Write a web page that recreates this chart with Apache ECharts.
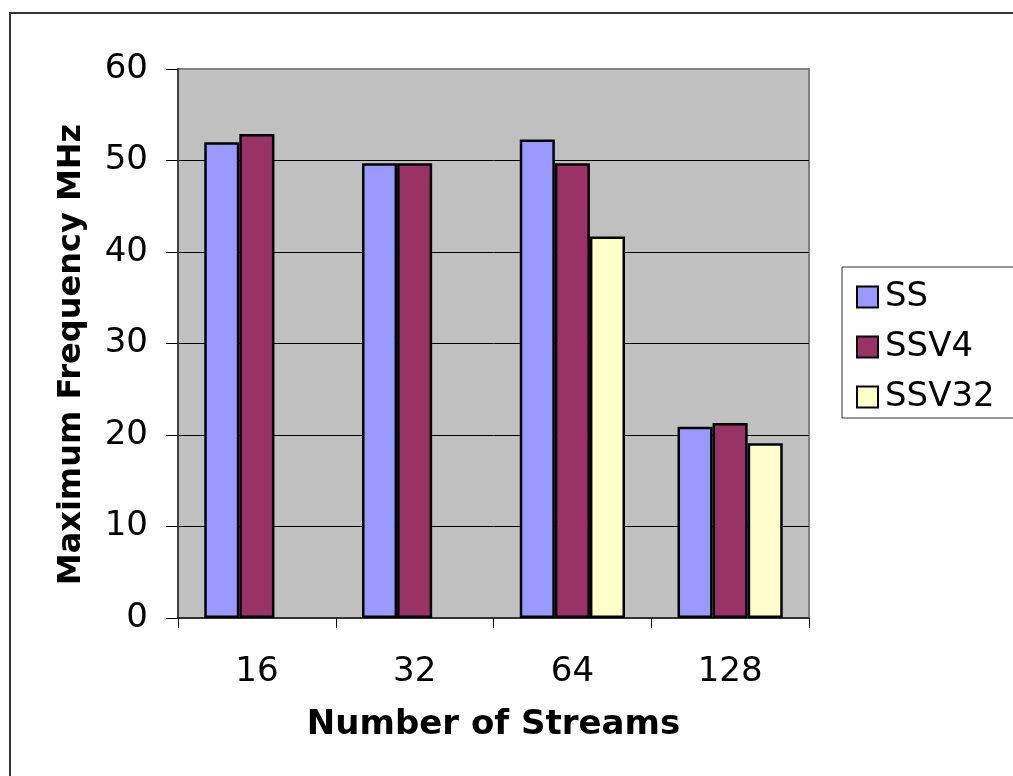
<!DOCTYPE html>
<html>
<head>
<meta charset="utf-8">
<title>Maximum Frequency vs Number of Streams</title>
<script src="https://cdn.jsdelivr.net/npm/echarts@6/dist/echarts.min.js"></script>
<style>
  html, body { margin: 0; padding: 0; background: #ffffff; }
  #chart { width: 1013px; height: 776px; }
</style>
</head>
<body>
<div id="chart"></div>
<script>
// Stream counts along the x axis
const streams = ['16', '32', '64', '128'];

// Maximum frequency (MHz) per design variant; null where no result exists
const ssValues    = [52.0, 49.7, 52.3, 20.9];
const ssv4Values  = [52.9, 49.7, 49.7, 21.3];
const ssv32Values = [null, null, 41.7, 19.1];

const seriesNames = ['SS', 'SSV4', 'SSV32'];
const seriesColors = ['#9999FF', '#993366', '#FFFFCC'];
const seriesValues = [ssValues, ssv4Values, ssv32Values];

const FONT = 'DejaVu Sans';

const chart = echarts.init(document.getElementById('chart'), null, { renderer: 'canvas' });

chart.setOption({
  backgroundColor: '#ffffff',
  animation: false,
  textStyle: { fontFamily: FONT, color: '#000' },
  graphic: [{
    type: 'rect',
    z: -10,
    shape: { x: 10, y: 13, width: 1100, height: 900 },
    style: { fill: 'none', stroke: '#333333', lineWidth: 2 }
  }],
  grid: {
    left: 178, right: 204, top: 69, bottom: 158,
    show: true,
    backgroundColor: '#C0C0C0',
    borderColor: '#808080',
    borderWidth: 2
  },
  legend: {
    orient: 'vertical',
    left: 842,
    top: 267,
    padding: [13, 40, 4, 14],
    itemGap: 16,
    itemWidth: 21,
    itemHeight: 21,
    icon: 'rect',
    borderColor: '#333333',
    borderWidth: 1,
    backgroundColor: '#ffffff',
    textStyle: { fontFamily: FONT, fontSize: 34, lineHeight: 34, color: '#000', padding: [0, 0, 0, 2] },
    data: seriesNames
  },
  xAxis: {
    type: 'category',
    data: streams,
    name: 'Number of Streams',
    nameLocation: 'middle',
    nameGap: 90,
    nameTextStyle: { fontFamily: FONT, fontSize: 34, fontWeight: 'bold', color: '#000' },
    axisLine: { show: true, lineStyle: { color: '#333333', width: 2 } },
    axisTick: { show: true, length: 10, lineStyle: { color: '#000', width: 1 } },
    axisLabel: { fontFamily: FONT, fontSize: 34, color: '#000', margin: 37 },
    splitLine: { show: false }
  },
  yAxis: {
    type: 'value',
    min: 0, max: 60, interval: 10,
    name: 'Maximum Frequency MHz',
    nameLocation: 'middle',
    nameGap: 90,
    nameTextStyle: { fontFamily: FONT, fontSize: 32, fontWeight: 'bold', color: '#000', padding: [0, 22, 0, 0] },
    axisLine: { show: true, lineStyle: { color: '#404040', width: 2 } },
    axisTick: { show: true, length: 12, lineStyle: { color: '#000', width: 1 } },
    axisLabel: { fontFamily: FONT, fontSize: 34, color: '#000', margin: 30, padding: [7, 0, 0, 0] },
    splitLine: { show: true, showMinLine: false, showMaxLine: false, lineStyle: { color: '#000', width: 1 } }
  },
  series: seriesNames.map((name, i) => ({
    name: name,
    type: 'bar',
    data: seriesValues[i],
    barGap: '0%',
    barCategoryGap: '33.3%',
    itemStyle: { color: seriesColors[i], borderColor: '#000', borderWidth: 2.5 }
  }))
});
</script>
</body>
</html>
